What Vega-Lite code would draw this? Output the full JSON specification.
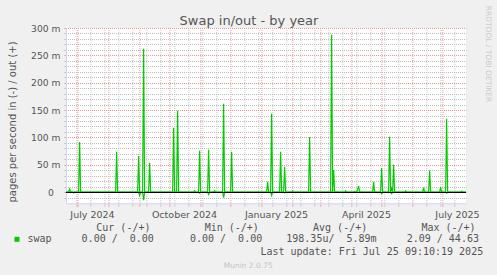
{
  "$schema": "https://vega.github.io/schema/vega-lite/v6.json",
  "width": 400,
  "height": 175,
  "autosize": {"type": "none"},
  "padding": {"left": 66, "top": 28, "right": 31, "bottom": 72},
  "background": "#F0F0F0",
  "view": {"fill": "#FFFFFF", "stroke": null},
  "config": {"font": "DejaVu Sans"},
  "data": {"values": [
    {"time": "2024-06-20T09:10:19", "direction": "out", "value": 0},
    {"time": "2024-06-23T00:00", "direction": "out", "value": 0},
    {"time": "2024-06-24T00:00", "direction": "out", "value": 5.5},
    {"time": "2024-06-25T00:00", "direction": "out", "value": 0},
    {"time": "2024-07-03T00:00", "direction": "out", "value": 0},
    {"time": "2024-07-04T00:00", "direction": "out", "value": 91.5},
    {"time": "2024-07-05T00:00", "direction": "out", "value": 0},
    {"time": "2024-08-09T00:00", "direction": "out", "value": 0},
    {"time": "2024-08-10T00:00", "direction": "out", "value": 73.7},
    {"time": "2024-08-11T00:00", "direction": "out", "value": 0},
    {"time": "2024-08-31T00:00", "direction": "out", "value": 0},
    {"time": "2024-09-01T00:00", "direction": "out", "value": 65.8},
    {"time": "2024-09-02T00:00", "direction": "out", "value": 0},
    {"time": "2024-09-05T00:00", "direction": "out", "value": 0},
    {"time": "2024-09-06T00:00", "direction": "out", "value": 262},
    {"time": "2024-09-07T00:00", "direction": "out", "value": 0},
    {"time": "2024-09-11T00:00", "direction": "out", "value": 0},
    {"time": "2024-09-12T00:00", "direction": "out", "value": 53.6},
    {"time": "2024-09-13T00:00", "direction": "out", "value": 0},
    {"time": "2024-10-05T00:00", "direction": "out", "value": 0},
    {"time": "2024-10-06T00:00", "direction": "out", "value": 117.6},
    {"time": "2024-10-07T00:00", "direction": "out", "value": 0},
    {"time": "2024-10-09T00:00", "direction": "out", "value": 0},
    {"time": "2024-10-10T00:00", "direction": "out", "value": 148.7},
    {"time": "2024-10-11T00:00", "direction": "out", "value": 0},
    {"time": "2024-10-26T00:00", "direction": "out", "value": 0},
    {"time": "2024-10-27T00:00", "direction": "out", "value": 2.4},
    {"time": "2024-10-28T00:00", "direction": "out", "value": 0},
    {"time": "2024-10-31T00:00", "direction": "out", "value": 0},
    {"time": "2024-11-01T00:00", "direction": "out", "value": 75.5},
    {"time": "2024-11-02T00:00", "direction": "out", "value": 0},
    {"time": "2024-11-09T00:00", "direction": "out", "value": 0},
    {"time": "2024-11-10T00:00", "direction": "out", "value": 77.4},
    {"time": "2024-11-11T00:00", "direction": "out", "value": 0},
    {"time": "2024-11-15T00:00", "direction": "out", "value": 0},
    {"time": "2024-11-16T00:00", "direction": "out", "value": 2.4},
    {"time": "2024-11-17T00:00", "direction": "out", "value": 0},
    {"time": "2024-11-24T00:00", "direction": "out", "value": 0},
    {"time": "2024-11-25T00:00", "direction": "out", "value": 161.5},
    {"time": "2024-11-26T00:00", "direction": "out", "value": 0},
    {"time": "2024-12-02T00:00", "direction": "out", "value": 0},
    {"time": "2024-12-03T00:00", "direction": "out", "value": 73.7},
    {"time": "2024-12-04T00:00", "direction": "out", "value": 0},
    {"time": "2025-01-07T00:00", "direction": "out", "value": 0},
    {"time": "2025-01-08T00:00", "direction": "out", "value": 18.8},
    {"time": "2025-01-09T00:00", "direction": "out", "value": 0},
    {"time": "2025-01-11T00:00", "direction": "out", "value": 0},
    {"time": "2025-01-12T00:00", "direction": "out", "value": 143},
    {"time": "2025-01-13T00:00", "direction": "out", "value": 0},
    {"time": "2025-01-20T00:00", "direction": "out", "value": 0},
    {"time": "2025-01-21T00:00", "direction": "out", "value": 73.7},
    {"time": "2025-01-22T00:00", "direction": "out", "value": 0},
    {"time": "2025-01-24T00:00", "direction": "out", "value": 0},
    {"time": "2025-01-25T00:00", "direction": "out", "value": 46.3},
    {"time": "2025-01-26T00:00", "direction": "out", "value": 0},
    {"time": "2025-02-01T00:00", "direction": "out", "value": 0},
    {"time": "2025-02-02T00:00", "direction": "out", "value": 2},
    {"time": "2025-02-03T00:00", "direction": "out", "value": 0},
    {"time": "2025-02-18T00:00", "direction": "out", "value": 0},
    {"time": "2025-02-19T00:00", "direction": "out", "value": 100.6},
    {"time": "2025-02-20T00:00", "direction": "out", "value": 0},
    {"time": "2025-03-12T00:00", "direction": "out", "value": 0},
    {"time": "2025-03-13T00:00", "direction": "out", "value": 287.7},
    {"time": "2025-03-14T00:00", "direction": "out", "value": 0},
    {"time": "2025-03-15T00:00", "direction": "out", "value": 40.2},
    {"time": "2025-03-16T00:00", "direction": "out", "value": 0},
    {"time": "2025-03-26T00:00", "direction": "out", "value": 0},
    {"time": "2025-03-27T00:00", "direction": "out", "value": 2.5},
    {"time": "2025-03-28T00:00", "direction": "out", "value": 0},
    {"time": "2025-04-04T00:00", "direction": "out", "value": 0},
    {"time": "2025-04-05T00:00", "direction": "out", "value": 1},
    {"time": "2025-04-06T00:00", "direction": "out", "value": 0},
    {"time": "2025-04-07T00:00", "direction": "out", "value": 0},
    {"time": "2025-04-08T00:00", "direction": "out", "value": 5},
    {"time": "2025-04-09T00:00", "direction": "out", "value": 11},
    {"time": "2025-04-10T00:00", "direction": "out", "value": 0},
    {"time": "2025-04-23T00:00", "direction": "out", "value": 0},
    {"time": "2025-04-24T00:00", "direction": "out", "value": 18.8},
    {"time": "2025-04-25T00:00", "direction": "out", "value": 0},
    {"time": "2025-05-01T00:00", "direction": "out", "value": 0},
    {"time": "2025-05-02T00:00", "direction": "out", "value": 43.9},
    {"time": "2025-05-03T00:00", "direction": "out", "value": 0},
    {"time": "2025-05-09T00:00", "direction": "out", "value": 0},
    {"time": "2025-05-10T00:00", "direction": "out", "value": 101},
    {"time": "2025-05-11T00:00", "direction": "out", "value": 0},
    {"time": "2025-05-12T00:00", "direction": "out", "value": 7},
    {"time": "2025-05-13T00:00", "direction": "out", "value": 0},
    {"time": "2025-05-14T00:00", "direction": "out", "value": 50},
    {"time": "2025-05-15T00:00", "direction": "out", "value": 0},
    {"time": "2025-05-25T00:00", "direction": "out", "value": 0},
    {"time": "2025-05-26T00:00", "direction": "out", "value": 2.5},
    {"time": "2025-05-27T00:00", "direction": "out", "value": 0},
    {"time": "2025-06-12T00:00", "direction": "out", "value": 0},
    {"time": "2025-06-13T00:00", "direction": "out", "value": 8},
    {"time": "2025-06-14T00:00", "direction": "out", "value": 0},
    {"time": "2025-06-18T00:00", "direction": "out", "value": 0},
    {"time": "2025-06-19T00:00", "direction": "out", "value": 39.6},
    {"time": "2025-06-20T00:00", "direction": "out", "value": 0},
    {"time": "2025-06-29T00:00", "direction": "out", "value": 0},
    {"time": "2025-06-30T00:00", "direction": "out", "value": 9},
    {"time": "2025-07-01T00:00", "direction": "out", "value": 0},
    {"time": "2025-07-05T00:00", "direction": "out", "value": 0},
    {"time": "2025-07-06T00:00", "direction": "out", "value": 134},
    {"time": "2025-07-07T00:00", "direction": "out", "value": 0},
    {"time": "2025-07-20T00:00", "direction": "out", "value": 0},
    {"time": "2025-07-21T00:00", "direction": "out", "value": 1.5},
    {"time": "2025-07-22T00:00", "direction": "out", "value": 0},
    {"time": "2025-07-25T09:10:19", "direction": "out", "value": 0},
    {"time": "2024-06-20T09:10:19", "direction": "in", "value": 0},
    {"time": "2024-06-27T00:00", "direction": "in", "value": 0},
    {"time": "2024-06-28T00:00", "direction": "in", "value": -1.5},
    {"time": "2024-06-29T00:00", "direction": "in", "value": 0},
    {"time": "2024-09-01T00:00", "direction": "in", "value": 0},
    {"time": "2024-09-02T00:00", "direction": "in", "value": -6},
    {"time": "2024-09-03T00:00", "direction": "in", "value": 0},
    {"time": "2024-09-05T00:00", "direction": "in", "value": 0},
    {"time": "2024-09-06T00:00", "direction": "in", "value": -15},
    {"time": "2024-09-07T00:00", "direction": "in", "value": 0},
    {"time": "2024-10-31T00:00", "direction": "in", "value": 0},
    {"time": "2024-11-01T00:00", "direction": "in", "value": -2},
    {"time": "2024-11-02T00:00", "direction": "in", "value": 0},
    {"time": "2024-11-09T00:00", "direction": "in", "value": 0},
    {"time": "2024-11-10T00:00", "direction": "in", "value": -4.3},
    {"time": "2024-11-11T00:00", "direction": "in", "value": 0},
    {"time": "2024-11-24T00:00", "direction": "in", "value": 0},
    {"time": "2024-11-25T00:00", "direction": "in", "value": -10.4},
    {"time": "2024-11-26T00:00", "direction": "in", "value": 0},
    {"time": "2025-01-11T00:00", "direction": "in", "value": 0},
    {"time": "2025-01-12T00:00", "direction": "in", "value": -6},
    {"time": "2025-01-13T00:00", "direction": "in", "value": 0},
    {"time": "2025-01-24T00:00", "direction": "in", "value": 0},
    {"time": "2025-01-25T00:00", "direction": "in", "value": -1.5},
    {"time": "2025-01-26T00:00", "direction": "in", "value": 0},
    {"time": "2025-04-27T00:00", "direction": "in", "value": 0},
    {"time": "2025-04-28T00:00", "direction": "in", "value": -1},
    {"time": "2025-04-29T00:00", "direction": "in", "value": 0},
    {"time": "2025-05-01T00:00", "direction": "in", "value": 0},
    {"time": "2025-05-02T00:00", "direction": "in", "value": -3},
    {"time": "2025-05-03T00:00", "direction": "in", "value": 0},
    {"time": "2025-05-11T00:00", "direction": "in", "value": 0},
    {"time": "2025-05-12T00:00", "direction": "in", "value": -3},
    {"time": "2025-05-13T00:00", "direction": "in", "value": 0},
    {"time": "2025-07-05T00:00", "direction": "in", "value": 0},
    {"time": "2025-07-06T00:00", "direction": "in", "value": -2},
    {"time": "2025-07-07T00:00", "direction": "in", "value": 0},
    {"time": "2025-07-25T09:10:19", "direction": "in", "value": 0}
  ]},
  "resolve": {"axis": {"x": "independent", "y": "independent"}},
  "layer": [
    {
      "transform": [{"filter": "datum.direction === 'out'"}],
      "mark": {"type": "line", "strokeWidth": 1.2},
      "encoding": {
        "x": {
          "field": "time", "type": "temporal",
          "scale": {"domain": [{"year": 2024, "month": 6, "date": 20, "hours": 9, "minutes": 10, "seconds": 19}, {"year": 2025, "month": 7, "date": 25, "hours": 9, "minutes": 10, "seconds": 19}]},
          "axis": {
            "orient": "bottom",
            "translate": 0.88,
            "values": [
              {"year": 2024, "month": 7, "date": 1}, {"year": 2024, "month": 8, "date": 1}, {"year": 2024, "month": 9, "date": 1},
              {"year": 2024, "month": 10, "date": 1}, {"year": 2024, "month": 11, "date": 1}, {"year": 2024, "month": 12, "date": 1},
              {"year": 2025, "month": 1, "date": 1}, {"year": 2025, "month": 2, "date": 1}, {"year": 2025, "month": 3, "date": 1},
              {"year": 2025, "month": 4, "date": 1}, {"year": 2025, "month": 5, "date": 1}, {"year": 2025, "month": 6, "date": 1},
              {"year": 2025, "month": 7, "date": 1},
              {"year": 2024, "month": 6, "date": 30}, {"year": 2024, "month": 7, "date": 14}, {"year": 2024, "month": 7, "date": 28},
              {"year": 2024, "month": 8, "date": 11}, {"year": 2024, "month": 8, "date": 25}, {"year": 2024, "month": 9, "date": 8},
              {"year": 2024, "month": 9, "date": 22}, {"year": 2024, "month": 10, "date": 6}, {"year": 2024, "month": 10, "date": 20},
              {"year": 2024, "month": 11, "date": 3}, {"year": 2024, "month": 11, "date": 17}, {"year": 2024, "month": 12, "date": 15},
              {"year": 2024, "month": 12, "date": 29}, {"year": 2025, "month": 1, "date": 12}, {"year": 2025, "month": 1, "date": 26},
              {"year": 2025, "month": 2, "date": 9}, {"year": 2025, "month": 2, "date": 23}, {"year": 2025, "month": 3, "date": 9},
              {"year": 2025, "month": 3, "date": 23}, {"year": 2025, "month": 4, "date": 6}, {"year": 2025, "month": 4, "date": 20},
              {"year": 2025, "month": 5, "date": 4}, {"year": 2025, "month": 5, "date": 18}, {"year": 2025, "month": 6, "date": 15},
              {"year": 2025, "month": 6, "date": 29}, {"year": 2025, "month": 7, "date": 13},
              {"year": 2024, "month": 7, "date": 16}, {"year": 2024, "month": 10, "date": 16}, {"year": 2025, "month": 1, "date": 16},
              {"year": 2025, "month": 4, "date": 16}, {"year": 2025, "month": 7, "date": 16}
            ],
            "labelExpr": "date(datum.value) === 16 ? timeFormat(datum.value, '%B %Y') : ''",
            "labelOverlap": false, "labelFlush": false, "labelBound": false,
            "labelFont": "DejaVu Sans", "labelFontSize": 9.5, "labelColor": "#555555", "labelPadding": 3,
            "grid": true,
            "gridColor": {"condition": {"test": "date(datum.value) === 1", "value": "#eba0a0"}, "value": "#c8c8c8"},
            "gridOpacity": {"condition": {"test": "date(datum.value) === 16", "value": 0}, "value": 1},
            "gridDash": [1, 1],
            "gridDashOffset": 0.88,
            "ticks": true, "tickSize": 3,
            "tickColor": {"condition": {"test": "date(datum.value) === 1", "value": "#eba0a0"}, "value": "#c8c8c8"},
            "tickOpacity": {"condition": {"test": "date(datum.value) === 16", "value": 0}, "value": 1},
            "domainColor": "#CFD6F8",
            "title": "Last update: Fri Jul 25 09:10:19 2025",
            "titleFont": "DejaVu Sans Mono", "titleFontSize": 10, "titleFontWeight": "normal", "titleColor": "#555555",
            "titleX": 416.3, "titleY": 51.3, "titleAlign": "right", "titleBaseline": "alphabetic"
          }
        },
        "y": {
          "field": "value", "type": "quantitative",
          "scale": {"domain": [-20, 300], "nice": false, "zero": false},
          "axis": {
            "orient": "left",
            "values": [-10, 0, 10, 20, 30, 40, 50, 60, 70, 80, 90, 100, 110, 120, 130, 140, 150, 160, 170, 180, 190, 200, 210, 220, 230, 240, 250, 260, 270, 280, 290, 300],
            "labelExpr": "datum.value % 50 === 0 && datum.value >= 0 ? (datum.value === 0 ? '0' : datum.value + ' m') : ''",
            "labelOverlap": false, "labelFont": "DejaVu Sans", "labelFontSize": 9.2, "labelColor": "#555555",
            "labelPadding": {"condition": {"test": "datum.value === 0", "value": 10.7}, "value": 4},
            "grid": true,
            "gridColor": {"condition": {"test": "datum.value % 50 === 0", "value": "#e69595"}, "value": "#bcbcbc"},
            "gridDash": [1, 1],
            "gridDashOffset": 0.5,
            "tickSize": 2,
            "tickColor": {"condition": {"test": "datum.value % 50 === 0", "value": "#e69595"}, "value": "#bcbcbc"},
            "domainColor": "#CFD6F8",
            "title": "pages per second in (-) / out (+)",
            "titleFont": "DejaVu Sans", "titleFontSize": 10, "titleFontWeight": "normal", "titleColor": "#555555",
            "titleX": -51, "titleY": 93.5, "titleAngle": -90, "titleAlign": "center", "titleBaseline": "alphabetic"
          }
        },
        "color": {
          "field": "direction", "type": "nominal",
          "scale": {"range": ["#00CC00"]},
          "legend": {
            "orient": "none", "legendX": -54, "legendY": 194.8, "padding": 0,
            "title": "\u200b\u00a0\u00a0\u00a0\u00a0\u00a0\u00a0\u00a0\u00a0\u00a0\u00a0\u00a0\u00a0\u00a0\u00a0Cur\u00a0(-/+)\u00a0\u00a0\u00a0\u00a0\u00a0\u00a0\u00a0\u00a0\u00a0Min\u00a0(-/+)\u00a0\u00a0\u00a0\u00a0\u00a0\u00a0\u00a0\u00a0\u00a0Avg\u00a0(-/+)\u00a0\u00a0\u00a0\u00a0\u00a0\u00a0\u00a0\u00a0\u00a0Max\u00a0(-/+)",
            "titleFont": "DejaVu Sans Mono", "titleFontSize": 10, "titleFontWeight": "normal", "titleColor": "#555555",
            "titleLimit": 1000, "titlePadding": 1.5, "titleBaseline": "top",
            "labelExpr": "'swap\u00a0\u00a0\u00a0\u00a0\u00a00.00\u00a0/\u00a0\u00a00.00\u00a0\u00a0\u00a0\u00a0\u00a0\u00a00.00\u00a0/\u00a0\u00a00.00\u00a0\u00a0\u00a0\u00a0198.35u/\u00a0\u00a05.89m\u00a0\u00a0\u00a0\u00a0\u00a02.09\u00a0/\u00a044.63'",
            "labelFont": "DejaVu Sans Mono", "labelFontSize": 10, "labelColor": "#555555", "labelLimit": 1000, "labelOffset": 5.4,
            "symbolType": "square", "symbolSize": 25, "symbolStrokeWidth": 0, "symbolFillColor": "#00CC00", "symbolOpacity": 1,
            "encode": {"symbols": {"update": {"fill": {"value": "#00CC00"}, "strokeWidth": {"value": 0}}}}
          }
        }
      }
    },
    {
      "transform": [{"filter": "datum.direction === 'in'"}],
      "mark": {"type": "line", "strokeWidth": 1.2, "color": "#00CC00"},
      "encoding": {
        "x": {
          "field": "time", "type": "temporal",
          "scale": {"domain": [{"year": 2024, "month": 6, "date": 20, "hours": 9, "minutes": 10, "seconds": 19}, {"year": 2025, "month": 7, "date": 25, "hours": 9, "minutes": 10, "seconds": 19}]},
          "axis": {
            "orient": "bottom", "domain": false, "labels": false, "ticks": false, "grid": false,
            "title": "Munin 2.0.75",
            "titleFont": "DejaVu Sans", "titleFontSize": 7.5, "titleFontWeight": "normal", "titleColor": "#c4c4c4",
            "titleX": 181.7, "titleY": 64, "titleAlign": "center", "titleBaseline": "alphabetic"
          }
        },
        "y": {
          "field": "value", "type": "quantitative",
          "scale": {"domain": [-20, 300], "nice": false, "zero": false},
          "axis": {
            "orient": "right", "domain": false, "labels": false, "ticks": false, "grid": false,
            "title": "RRDTOOL / TOBI OETIKER",
            "titleFont": "DejaVu Sans", "titleFontSize": 7.5, "titleFontWeight": "normal", "titleColor": "#cccccc",
            "titleAngle": 90, "titleX": 21.3, "titleY": 25.5, "titleAlign": "center", "titleBaseline": "middle"
          }
        }
      }
    },
    {
      "data": {"values": [{"from": "2024-06-20T09:10:19", "to": "2025-07-25T09:10:19", "level": 0}]},
      "mark": {"type": "rule", "color": "#000000", "strokeWidth": 1, "yOffset": 0.44},
      "encoding": {
        "x": {
          "field": "from", "type": "temporal",
          "scale": {"domain": [{"year": 2024, "month": 6, "date": 20, "hours": 9, "minutes": 10, "seconds": 19}, {"year": 2025, "month": 7, "date": 25, "hours": 9, "minutes": 10, "seconds": 19}]},
          "axis": {
            "orient": "top", "domain": false, "labels": false, "ticks": false, "grid": false,
            "title": "Swap in/out - by year",
            "titleFont": "DejaVu Sans", "titleFontSize": 13, "titleFontWeight": "normal", "titleColor": "#555555",
            "titleX": 182.5, "titleY": -4, "titleAlign": "center", "titleBaseline": "alphabetic"
          }
        },
        "x2": {"field": "to"},
        "y": {
          "field": "level", "type": "quantitative",
          "scale": {"domain": [-20, 300], "nice": false, "zero": false},
          "axis": null
        }
      }
    }
  ]
}
